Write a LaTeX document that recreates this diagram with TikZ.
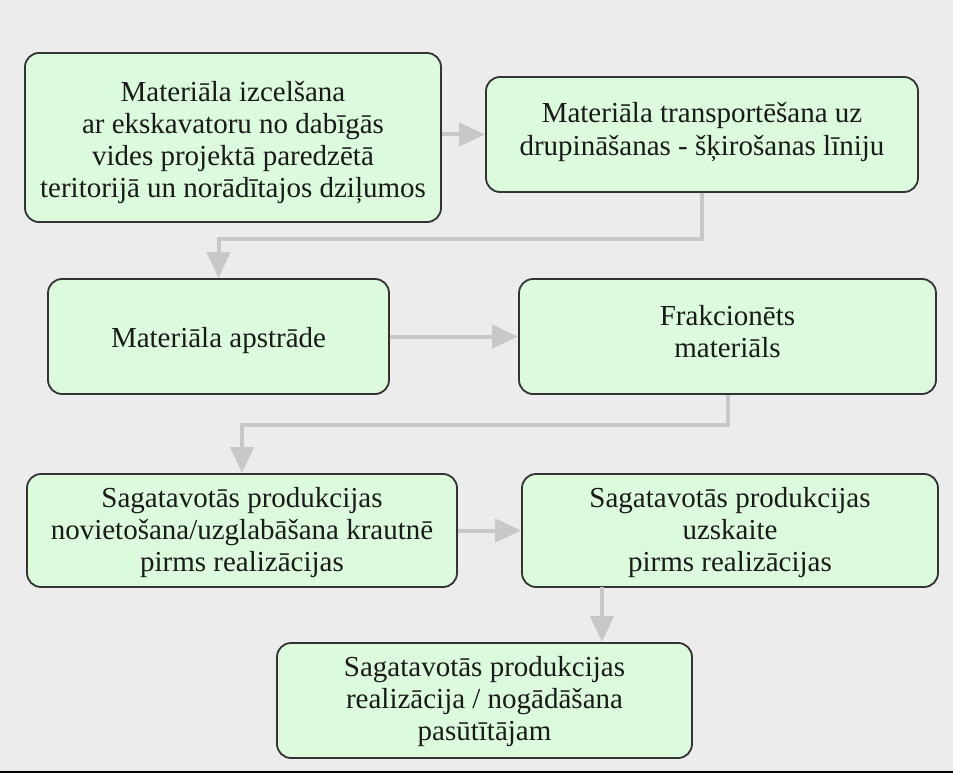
\documentclass[tikz,border=0pt]{standalone}
\usepackage{fontspec}
\setmainfont{Liberation Serif}
\usetikzlibrary{arrows.meta}
\definecolor{bgc}{HTML}{ECECEC}
\definecolor{boxfill}{HTML}{DCFADC}
\definecolor{boxline}{HTML}{333333}
\definecolor{arrc}{HTML}{C8C8C8}
\definecolor{txtc}{HTML}{1A1A1A}
\tikzset{
  stepbox/.style={draw=boxline, fill=boxfill, line width=1.8pt, rounded corners=14pt,
    rectangle, inner sep=0pt, anchor=center},
  txt/.style={align=center, text=txtc, font=\fontsize{29}{32.3}\selectfont, inner sep=0pt},
  arr/.style={draw=arrc, line width=4pt, -{Triangle[width=23pt,length=26pt]}},
}
\begin{document}
\begin{tikzpicture}[x=1pt,y=-1pt]
\fill[bgc] (0,0) rectangle (953,773);
\useasboundingbox (0,0) rectangle (953,773);
\draw[black, line width=2.5pt] (0,771.8) -- (953,771.8);

\node[stepbox, minimum width=416pt, minimum height=169pt] (b1) at (233,137.5) {};
\node[stepbox, minimum width=432pt, minimum height=115pt] (b2) at (702,134.5) {};
\node[stepbox, minimum width=341pt, minimum height=115pt] (b3) at (218.5,336.5) {};
\node[stepbox, minimum width=417pt, minimum height=115pt] (b4) at (727.5,336.5) {};
\node[stepbox, minimum width=430pt, minimum height=113pt] (b5) at (242,530.5) {};
\node[stepbox, minimum width=416pt, minimum height=113pt] (b6) at (730,530.5) {};
\node[stepbox, minimum width=415pt, minimum height=115pt] (b7) at (484.5,700.5) {};

\node[txt] (t1) at ([yshift=-5pt]b1.center) {Materiāla izcelšana\\ar ekskavatoru no dabīgās\\vides projektā paredzētā\\teritorijā un norādītajos dziļumos};
\node[txt] (t2) at ([yshift=2.5pt]b2.center) {Materiāla transportēšana uz\\drupināšanas - šķirošanas līniju};
\node[txt] (t3) at ([yshift=-4pt]b3.center) {Materiāla apstrāde};
\node[txt] (t4) at ([yshift=5pt]b4.center) {Frakcionēts\\materiāls};
\node[txt] (t5) at ([yshift=-2pt]b5.center) {Sagatavotās produkcijas\\novietošana/uzglabāšana krautnē\\pirms realizācijas};
\node[txt] (t6) at ([yshift=-2pt]b6.center) {Sagatavotās produkcijas\\uzskaite\\pirms realizācijas};
\node[txt] (t7) at ([yshift=-1pt]b7.center) {Sagatavotās produkcijas\\realizācija / nogādāšana\\pasūtītājam};

\draw[arr] (b1.east |- b2.west) -- (b2.west);
\draw[arr] (b2.south) -- ++(0,46) -| (b3.north);
\draw[arr] (b3.east) -- (b4.west);
\draw[arr] (b4.south) -- ++(0,30) -| (b5.north);
\draw[arr] (b5.east) -- (b6.west);
\coordinate (c6) at (602,587);
\draw[arr] (c6) -- (c6 |- b7.north);
\end{tikzpicture}
\end{document}
